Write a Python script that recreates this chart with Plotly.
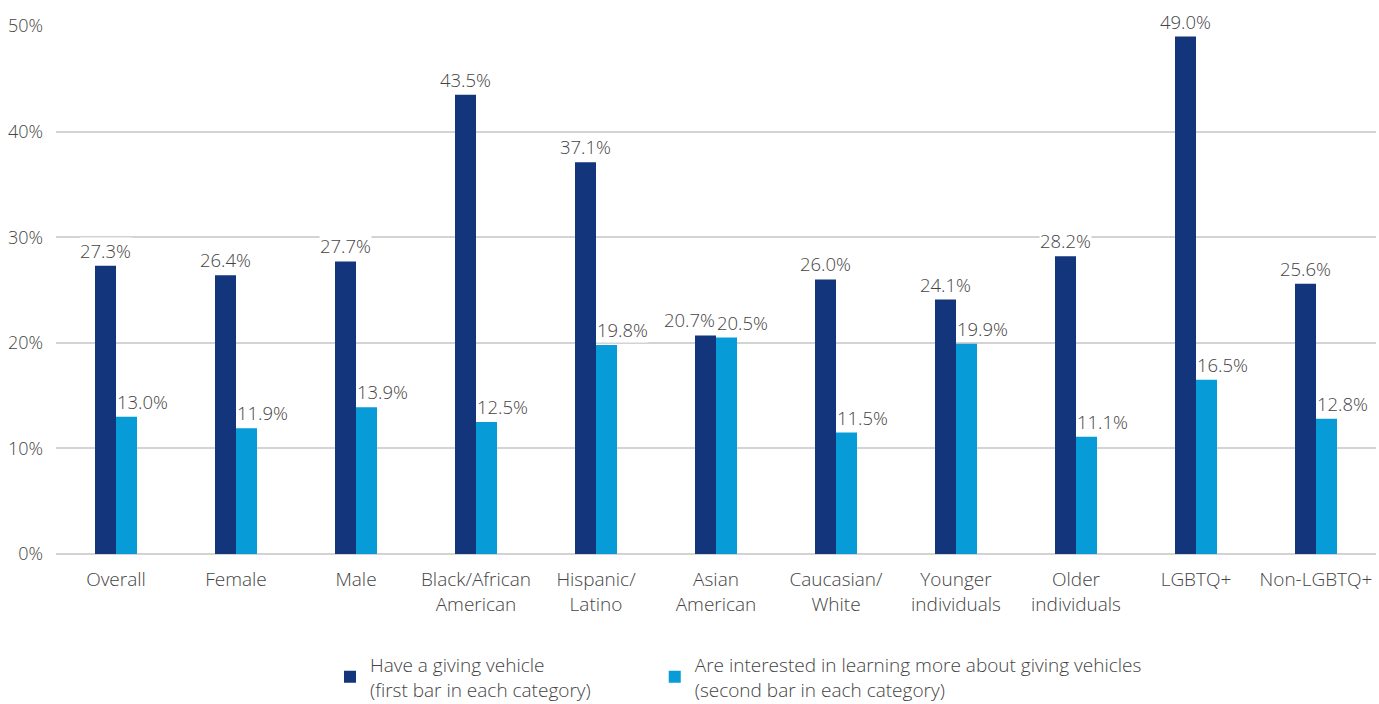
import plotly.graph_objects as go

categories = ["Overall", "Female", "Male", "Black/African<br>American", "Hispanic/<br>Latino",
              "Asian<br>American", "Caucasian/<br>White", "Younger<br>individuals",
              "Older<br>individuals", "LGBTQ+", "Non-LGBTQ+"]
have_vehicle = [27.3, 26.4, 27.7, 43.5, 37.1, 20.7, 26.0, 24.1, 28.2, 49.0, 25.6]
interested = [13.0, 11.9, 13.9, 12.5, 19.8, 20.5, 11.5, 19.9, 11.1, 16.5, 12.8]
series_names = ["Have a giving vehicle<br>(first bar in each category)",
                "Are interested in learning more about giving vehicles<br>(second bar in each category)"]
y_ticks = [0, 10, 20, 30, 40, 50]
y_tick_labels = ["0%", "10%", "20%", "30%", "40%", "50%"]

DARK = "#13357b"
LIGHT = "#079bd8"
TXT = "#444444"
FAM = "Open Sans"
ANN_FONT = dict(family=FAM, size=18.5, color=TXT, weight=300)
TICK_FONT = dict(family=FAM, size=18, color=TXT, weight=300)
CAT_FONT = dict(family=FAM, size=19, color=TXT, weight=300)
LEG_FONT = dict(family=FAM, size=19, color=TXT, weight=300)

fig = go.Figure()
fig.add_trace(go.Bar(x=categories, y=have_vehicle, name=series_names[0], legend="legend",
                     marker=dict(color=DARK, line=dict(width=0))))
fig.add_trace(go.Bar(x=categories, y=interested, name=series_names[1], legend="legend2",
                     marker=dict(color=LIGHT, line=dict(width=0))))

ann = []
for c, a, b in zip(categories, have_vehicle, interested):
    close = abs(a - b) < 1.0
    ann.append(dict(x=c, y=a, xref="x", yref="y", text=f"{a:.1f}%", showarrow=False,
                    xanchor="right" if close else "center", xshift=0 if close else -10.5,
                    yanchor="bottom", yshift=2, bgcolor="white", borderpad=0, font=ANN_FONT))
    ann.append(dict(x=c, y=b, xref="x", yref="y", text=f"{b:.1f}%", showarrow=False,
                    xanchor="left", xshift=0,
                    yanchor="bottom", yshift=2, bgcolor="white", borderpad=0, font=ANN_FONT))

leg_common = dict(orientation="h", xref="container", yref="container", y=0.083,
                  xanchor="left", yanchor="top", font=LEG_FONT, bgcolor="rgba(0,0,0,0)")

fig.update_layout(
    width=1379, height=704,
    margin=dict(l=56, r=3, t=26, b=150, autoexpand=False),
    paper_bgcolor="white", plot_bgcolor="white",
    barmode="group", bargap=0.65, bargroupgap=0,
    font=TICK_FONT,
    showlegend=True,
    hovermode=False,
    legend=dict(x=0.2393, **leg_common),
    legend2=dict(x=0.4748, **leg_common),
    annotations=ann,
    xaxis=dict(showgrid=False, showline=False, ticks="", tickfont=CAT_FONT,
               ticklabelstandoff=12, automargin=False),
    yaxis=dict(range=[0, 50], tickvals=y_ticks, ticktext=y_tick_labels, showgrid=True,
               gridcolor="#d3d3d3", gridwidth=1.5, zeroline=True, zerolinecolor="#d3d3d3",
               zerolinewidth=1.5, tickfont=TICK_FONT, ticks="", ticklabelstandoff=12,
               automargin=False),
)

fig.write_html("out.html", config={"displayModeBar": False},
               post_script="document.body.style.margin='0';document.body.style.overflow='hidden';")
